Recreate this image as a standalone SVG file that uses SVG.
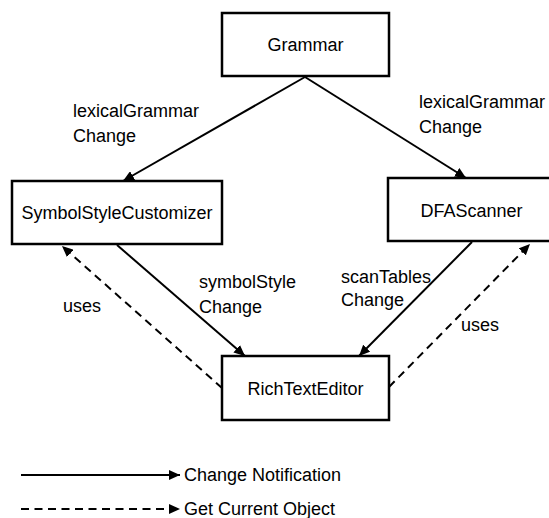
<svg xmlns="http://www.w3.org/2000/svg" width="549" height="518" viewBox="0 0 549 518">
  <style>
    .box { fill: #ffffff; stroke: #000000; stroke-width: 2.5; }
    .lbl { font-family: "Liberation Sans", Arial, sans-serif; font-size: 18px; fill: #000000; }
    .mid { text-anchor: middle; }
    .solid { fill: none; stroke: #000000; stroke-width: 2; }
    .dash { fill: none; stroke: #000000; stroke-width: 2; stroke-dasharray: 8 5.5; }
  </style>
  <defs>
    <marker id="arrow" markerUnits="userSpaceOnUse" markerWidth="11" markerHeight="10" refX="11" refY="5" orient="auto" viewBox="0 0 11 10">
      <path d="M0,0 L11,5 L0,10 z" fill="#000000"/>
    </marker>
  </defs>
  <rect width="549" height="518" fill="#ffffff"/>

  <g id="connectors">
    <path class="solid" d="M305,77 L123,181" marker-end="url(#arrow)"/>
    <path class="solid" d="M305,77 L466,178" marker-end="url(#arrow)"/>
    <path class="solid" d="M117,245 L245,356" marker-end="url(#arrow)"/>
    <path class="solid" d="M472,242 L359,356" marker-end="url(#arrow)"/>
    <path class="dash" d="M222,388 L62,246" marker-end="url(#arrow)"/>
    <path class="dash" d="M389,387 L530,244" marker-end="url(#arrow)"/>
    <text class="lbl" x="73" y="117">lexicalGrammar</text>
    <text class="lbl" x="73" y="142">Change</text>
    <text class="lbl" x="419" y="108">lexicalGrammar</text>
    <text class="lbl" x="419" y="133">Change</text>
    <text class="lbl" x="199" y="288">symbolStyle</text>
    <text class="lbl" x="199" y="313">Change</text>
    <text class="lbl" x="341" y="283">scanTables</text>
    <text class="lbl" x="341" y="306">Change</text>
    <text class="lbl" x="63" y="312">uses</text>
    <text class="lbl" x="461" y="331">uses</text>
  </g>

  <g id="grammar">
    <rect class="box" x="222" y="13" width="167" height="63"/>
    <text class="lbl mid" x="305.5" y="51">Grammar</text>
  </g>
  <g id="symbolStyleCustomizer">
    <rect class="box" x="12" y="181" width="210" height="63"/>
    <text class="lbl mid" x="117" y="219">SymbolStyleCustomizer</text>
  </g>
  <g id="dfaScanner">
    <rect class="box" x="388" y="178" width="167" height="63"/>
    <text class="lbl mid" x="471.5" y="217">DFAScanner</text>
  </g>
  <g id="richTextEditor">
    <rect class="box" x="222" y="356" width="167" height="64"/>
    <text class="lbl mid" x="305.5" y="395">RichTextEditor</text>
  </g>

  <g id="legend">
    <path class="solid" d="M21,475 L180,475" marker-end="url(#arrow)"/>
    <text class="lbl" x="184" y="481">Change Notification</text>
    <path class="dash" d="M21,509 L180,509" marker-end="url(#arrow)"/>
    <text class="lbl" x="184" y="515">Get Current Object</text>
  </g>
</svg>
